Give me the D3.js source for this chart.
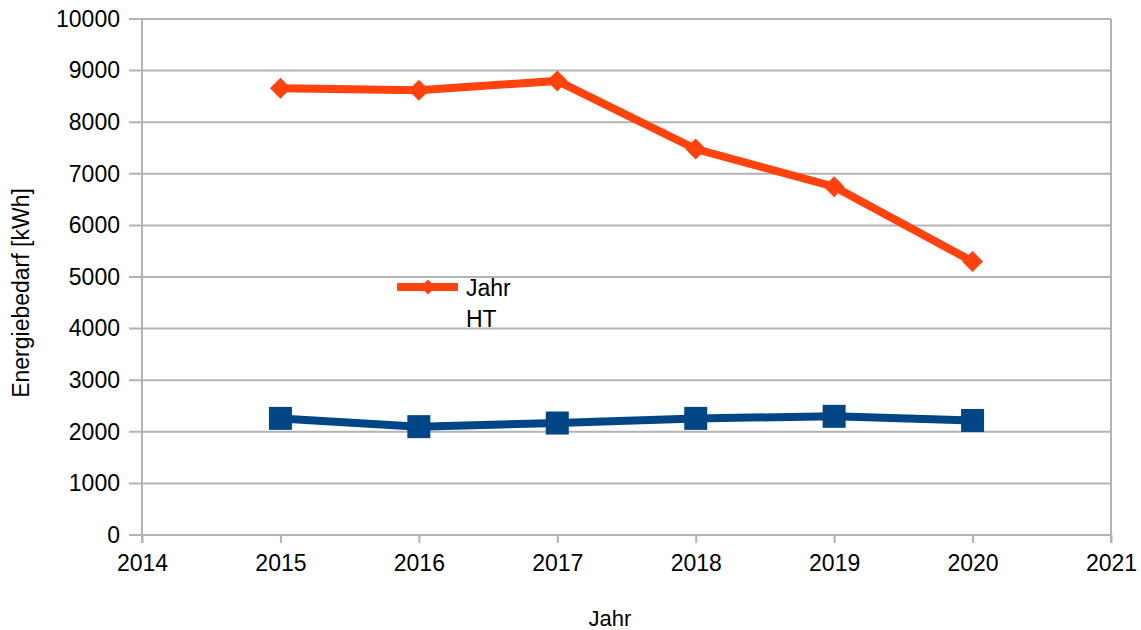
<!DOCTYPE html>
<html>
<head>
<meta charset="utf-8">
<script src="https://cdn.jsdelivr.net/npm/d3@7"></script>
<style>
  body { margin: 0; background: #fff; }
  text { font-family: "Liberation Sans", Arial, sans-serif; fill: #000; }
</style>
</head>
<body>
<svg width="1141" height="630"></svg>
<script>
var years = [2015, 2016, 2017, 2018, 2019, 2020]
var jahrValues = [8660, 8620, 8800, 7480, 6750, 5300]
var htValues = [2260, 2100, 2170, 2260, 2300, 2220]
var xTicks = [2014, 2015, 2016, 2017, 2018, 2019, 2020, 2021]
var yTicks = [0, 1000, 2000, 3000, 4000, 5000, 6000, 7000, 8000, 9000, 10000]

function renderChart() {
    var svg = d3.select("svg")
    var left = 142, right = 1111, top = 19, bottom = 535

    var xScale = d3.scaleLinear().domain([2014, 2021]).range([left, right])
    var yScale = d3.scaleLinear().domain([0, 10000]).range([bottom, top])

    // gridlines
    svg.append("g")
        .selectAll("line")
        .data(yTicks)
        .enter()
        .append("line")
        .attr("x1", left - 13)
        .attr("x2", right)
        .attr("y1", d => yScale(d))
        .attr("y2", d => yScale(d))
        .attr("stroke", "#b3b3b3")
        .attr("stroke-width", 2)

    // frame sides
    svg.append("line").attr("x1", left).attr("x2", left).attr("y1", top).attr("y2", bottom + 8)
        .attr("stroke", "#b3b3b3").attr("stroke-width", 2)
    svg.append("line").attr("x1", right).attr("x2", right).attr("y1", top).attr("y2", bottom + 8)
        .attr("stroke", "#b3b3b3").attr("stroke-width", 2)

    var yAxis = d3.axisLeft(yScale).tickValues(yTicks).tickSize(0).tickPadding(22).tickFormat(d3.format("d"))
    var yg = svg.append("g").attr("transform", `translate(${left},0)`).call(yAxis)
    yg.select(".domain").remove()
    yg.selectAll("text").style("font-size", "23px").style("font-family", "Liberation Sans")

    var xAxis = d3.axisBottom(xScale).tickValues(xTicks).tickSize(8).tickPadding(12).tickFormat(d3.format("d"))
    var xg = svg.append("g").attr("transform", `translate(0,${bottom})`).call(xAxis)
    xg.select(".domain").remove()
    xg.selectAll("line").attr("stroke", "#b3b3b3").attr("stroke-width", 2)
    xg.selectAll("text").style("font-size", "23px").style("font-family", "Liberation Sans")

    var lineGen = d3.line()
        .x((d, i) => xScale(years[i]))
        .y(d => yScale(d))

    // HT series
    svg.append("path")
        .attr("d", lineGen(htValues))
        .attr("fill", "none")
        .attr("stroke", "#004586")
        .attr("stroke-width", 8)
    svg.append("g")
        .selectAll("rect")
        .data(htValues)
        .enter()
        .append("rect")
        .attr("x", (d, i) => xScale(years[i]) - 11.5)
        .attr("y", d => yScale(d) - 11.5)
        .attr("width", 23)
        .attr("height", 23)
        .attr("fill", "#004586")

    // Jahr series
    svg.append("path")
        .attr("d", lineGen(jahrValues))
        .attr("fill", "none")
        .attr("stroke", "#ff420e")
        .attr("stroke-width", 8)
    var diamond = d3.symbol().type(d3.symbolSquare).size(220)
    svg.append("g")
        .selectAll("path")
        .data(jahrValues)
        .enter()
        .append("path")
        .attr("d", diamond)
        .attr("transform", (d, i) => `translate(${xScale(years[i])},${yScale(d)}) rotate(45)`)
        .attr("fill", "#ff420e")

    // legend
    var lg = svg.append("g")
    lg.append("line").attr("x1", 397).attr("x2", 458).attr("y1", 287).attr("y2", 287)
        .attr("stroke", "#ff420e").attr("stroke-width", 8)
    lg.append("path").attr("d", d3.symbol().type(d3.symbolSquare).size(110))
        .attr("transform", "translate(428,287) rotate(45)").attr("fill", "#ff420e")
    lg.append("text").attr("x", 466).attr("y", 296).style("font-size", "23px").text("Jahr")
    lg.append("text").attr("x", 466).attr("y", 327).style("font-size", "23px").text("HT")

    // axis titles
    svg.append("text")
        .attr("x", 610).attr("y", 626)
        .attr("text-anchor", "middle")
        .style("font-size", "22px")
        .text("Jahr")
    svg.append("text")
        .attr("transform", "translate(29,293) rotate(-90)")
        .attr("text-anchor", "middle")
        .style("font-size", "23px")
        .text("Energiebedarf [kWh]")
}

renderChart()
</script>
</body>
</html>
